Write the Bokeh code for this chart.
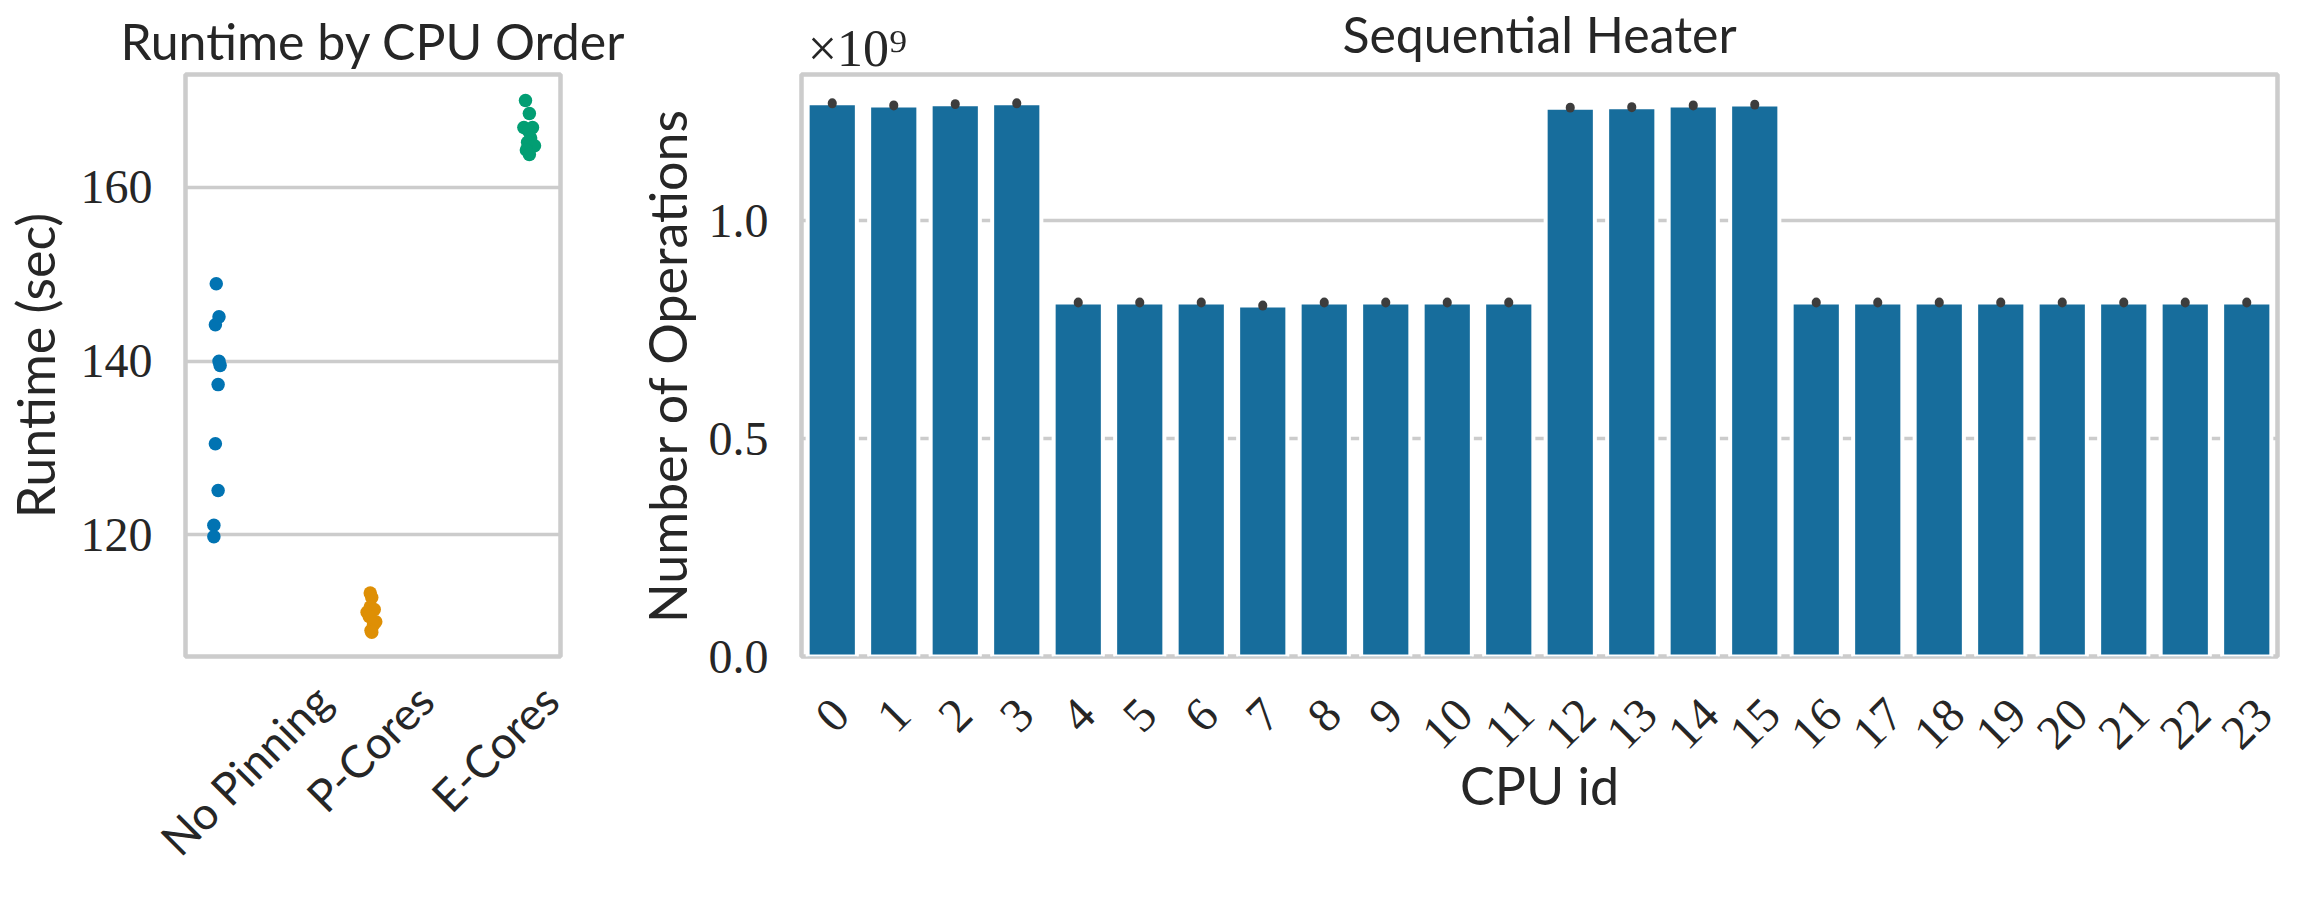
import math

from bokeh.embed import file_html
from bokeh.layouts import row
from bokeh.models import FixedTicker, LinearAxis, PrintfTickFormatter, Range1d
from bokeh.plotting import figure
from bokeh.resources import INLINE

# Runtime by CPU order (seconds), one dot per run
orders = ["No Pinning", "P-Cores", "E-Cores"]
order_colors = ["#0173b2", "#de8f05", "#029e73"]

runtime_no_pinning = [148.9, 145.1, 144.2, 140.0, 139.5, 137.3, 130.5, 125.1, 121.1, 119.8]
jitter_no_pinning = [0.013, 0.035, 0.006, 0.035, 0.044, 0.028, 0.006, 0.028, -0.006, -0.006]

runtime_p_cores = [113.3, 112.8, 111.7, 111.4, 111.1, 110.6, 110.0, 109.7, 109.0, 108.8]
jitter_p_cores = [-0.022, -0.010, -0.022, 0.010, -0.047, -0.030, 0.022, 0.005, -0.016, -0.010]

runtime_e_cores = [170.0, 168.5, 166.9, 166.9, 166.5, 165.7, 165.2, 164.8, 164.3, 163.8]
jitter_e_cores = [-0.047, -0.016, -0.060, 0.009, -0.022, -0.006, -0.030, 0.025, -0.040, -0.016]

# Sequential heater: operations per CPU (x 1e9) with CI half width
cpu_ids = list(range(24))
cpu_labels = [str(i) for i in cpu_ids]
ops_e9 = [1.269, 1.264, 1.267, 1.269, 0.812, 0.812, 0.812, 0.805,
          0.812, 0.812, 0.812, 0.812, 1.259, 1.260, 1.264, 1.266,
          0.812, 0.812, 0.812, 0.812, 0.812, 0.812, 0.812, 0.812]
ops_ci_e9 = [0.001] * 24

TEXT = "#262626"
GRID = "#cccccc"
SANS = "Lato"
SERIF = "Liberation Serif"
LABEL_SIZE = 52
TICK_SIZE = 48
CAT_SIZE = 45


def style_axis(ax):
    ax.axis_line_color = None
    ax.major_tick_line_color = None
    ax.minor_tick_line_color = None
    ax.major_tick_out = 0
    ax.major_tick_in = 0
    ax.major_label_standoff = 33
    ax.major_label_text_font = SERIF
    ax.major_label_text_font_size = f"{TICK_SIZE}px"
    ax.major_label_text_color = TEXT
    ax.axis_label_text_font = SANS
    ax.axis_label_text_font_size = f"{LABEL_SIZE}px"
    ax.axis_label_text_font_style = "normal"
    ax.axis_label_text_color = TEXT


def style(p):
    p.outline_line_color = GRID
    p.outline_line_width = 4.5
    p.xgrid.visible = False
    p.ygrid.grid_line_color = GRID
    p.ygrid.grid_line_width = 3.5
    for ax in p.axis:
        style_axis(ax)


def centred_ticks(positions, labels, char_w, px_per_unit):
    # bokeh hangs rotated labels from their right end; shift each tick so the
    # label's bounding box ends up centred under its position (matplotlib style)
    ticks, overrides = [], {}
    for pos, lab in zip(positions, labels):
        t = pos + 0.354 * char_w * len(lab) / px_per_unit
        ticks.append(t)
        overrides[t] = lab
    return ticks, overrides


# ---- left: strip plot ----
p1 = figure(width=632, height=900, x_range=Range1d(-0.5, 2.5), y_range=Range1d(106.0, 173.0),
            title="Runtime by CPU Order", output_backend="svg", toolbar_location=None,
            min_border_left=184, min_border_right=72, min_border_top=69, min_border_bottom=244)
style(p1)
p1.title.text_font = SANS
p1.title.text_font_size = "50px"
p1.title.text_font_style = "normal"
p1.title.text_color = TEXT
p1.title.align = "center"
p1.title.standoff = 8

dodge = [-0.267, 0.0, 0.267]
groups = [(runtime_no_pinning, jitter_no_pinning),
          (runtime_p_cores, jitter_p_cores),
          (runtime_e_cores, jitter_e_cores)]
for i, (vals, jit) in enumerate(groups):
    xs = [i + dodge[i] + j for j in jit]
    p1.scatter(x=xs, y=vals, size=13.5, fill_color=order_colors[i], line_color=None)

p1.yaxis.ticker = FixedTicker(ticks=[120, 140, 160])
p1.yaxis.axis_label = "Runtime (sec)"
p1.yaxis.axis_label_standoff = 12

ticks1, over1 = centred_ticks([0, 1, 2], orders, 0.47 * CAT_SIZE, 376 / 3)
p1.xaxis.ticker = FixedTicker(ticks=ticks1)
p1.xaxis.major_label_overrides = over1
p1.xaxis.major_label_orientation = math.pi / 4
p1.xaxis.major_label_text_font = SANS
p1.xaxis.major_label_text_font_size = f"{CAT_SIZE}px"
p1.xaxis.major_label_standoff = 36

# ---- right: bar plot ----
p2 = figure(width=1666, height=900, x_range=Range1d(-0.5, 23.5), y_range=Range1d(0, 1.335),
            title=None, output_backend="svg", toolbar_location=None,
            min_border_left=164, min_border_right=21, min_border_top=69, min_border_bottom=244)
style(p2)

p2.vbar(x=cpu_ids, top=ops_e9, width=0.8, fill_color="#176d9c", line_color="white", line_width=4)
p2.segment(x0=cpu_ids, y0=[v - e for v, e in zip(ops_e9, ops_ci_e9)],
           x1=cpu_ids, y1=[v + e for v, e in zip(ops_e9, ops_ci_e9)],
           line_color="#3d3d3d", line_width=9, line_cap="round")

ticks2, over2 = centred_ticks(cpu_ids, cpu_labels, 0.5 * TICK_SIZE, 1481 / 24)
p2.xaxis.ticker = FixedTicker(ticks=ticks2)
p2.xaxis.major_label_overrides = over2
p2.xaxis.major_label_orientation = math.pi / 4
p2.xaxis.major_label_standoff = 50
p2.xaxis.axis_label = "CPU id"
p2.xaxis.axis_label_standoff = -12
p2.yaxis.ticker = FixedTicker(ticks=[0, 0.5, 1.0])
p2.yaxis.formatter = PrintfTickFormatter(format="%.1f")
p2.yaxis.axis_label = "Number of Operations"
p2.yaxis.axis_label_standoff = 8

# top axis carries the offset text (x10^9, top-left) and the title as its label
offset_pos = 0.41
top = LinearAxis(ticker=FixedTicker(ticks=[offset_pos]),
                 major_label_overrides={offset_pos: "×10⁹"},
                 axis_label="Sequential Heater")
style_axis(top)
top.major_label_text_font_size = "52px"
top.major_label_standoff = -2
top.axis_label_text_font_size = "50px"
top.axis_label_standoff = -47
p2.add_layout(top, "above")

layout = row(p1, p2)
open("out.html", "w").write(file_html(layout, INLINE))
